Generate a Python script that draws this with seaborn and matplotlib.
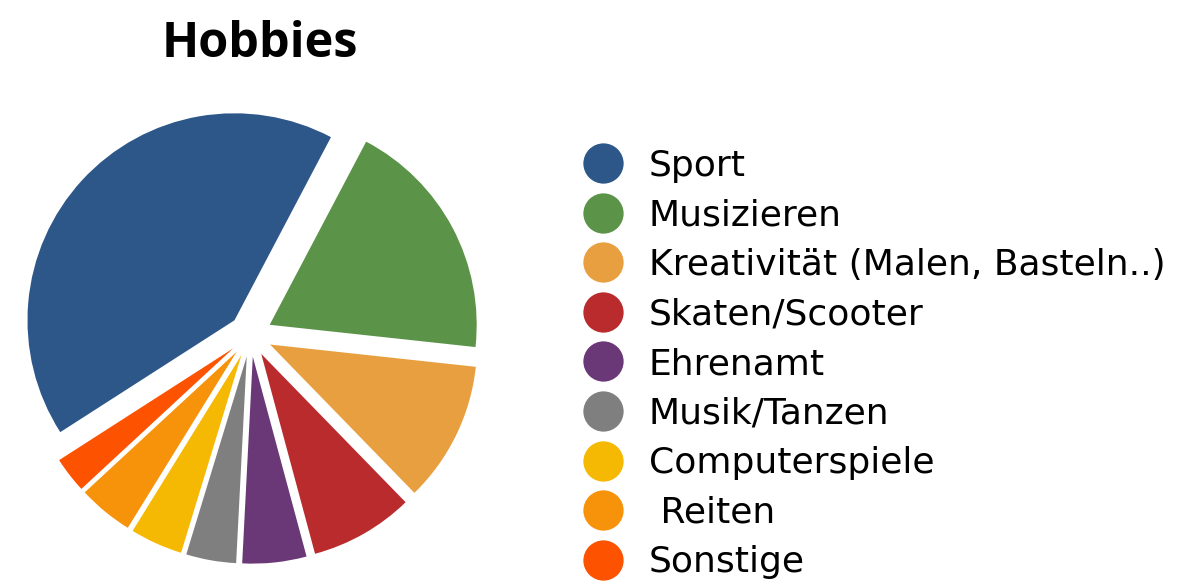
import matplotlib
matplotlib.use("Agg")
import matplotlib.pyplot as plt
from matplotlib.lines import Line2D
import seaborn as sns

categories = ["Sport", "Musizieren", "Kreativität (Malen, Basteln..)", "Skaten/Scooter",
              "Ehrenamt", "Musik/Tanzen", "Computerspiele", " Reiten", "Sonstige"]
values = [41.8, 19.0, 11.0, 8.1, 5.0, 3.9, 4.1, 4.3, 2.8]
colors = ["#2D5689", "#5B9449", "#E89F40", "#BA2B2D", "#6B3877",
          "#7F7F7F", "#F5B904", "#F7930A", "#FD5200"]
title = "Hobbies"

sns.set_theme(style="white")
plt.rcParams['font.family'] = ['DejaVu Sans']
plt.rcParams['text.color'] = 'black'
palette = sns.color_palette(colors)

W, H = 1182, 586
fig = plt.figure(figsize=(W / 100, H / 100), dpi=100)
fig.patch.set_facecolor("white")

# pie axes: center at (250.5, 335) px from top-left, radius 207 px
R = 207.0
cx, cy = 250.5, 335.0
lim = 1.25
size = 2 * lim * R
ax = fig.add_axes([(cx - size / 2) / W, (H - cy - size / 2) / H, size / W, size / H])
wedges, _ = ax.pie(values, colors=palette, startangle=90 - 237.3, counterclock=False,
                   explode=[0.105] * len(values), radius=1.0,
                   wedgeprops=dict(linewidth=0))
ax.set_xlim(-lim, lim)
ax.set_ylim(-lim, lim)
ax.set_aspect("equal")
ax.axis("off")

fig.text(260 / W, 1 - 57.3 / H, title, ha="center", va="baseline", color="black",
         fontsize=35, fontweight="bold", family=["Open Sans", "DejaVu Sans"])

handles = [Line2D([0], [0], marker="o", linestyle="none", markersize=29,
                  markerfacecolor=c, markeredgewidth=0) for c in palette]
fig.legend(handles, categories, loc="upper left",
           bbox_to_anchor=(583.2 / W, 1 - 149.0 / H), frameon=False,
           fontsize=26, labelspacing=0.43, handlelength=1.1,
           handletextpad=0.72, borderpad=0, borderaxespad=0,
           labelcolor="black")

fig.savefig("out.png", dpi=100, facecolor="white")
